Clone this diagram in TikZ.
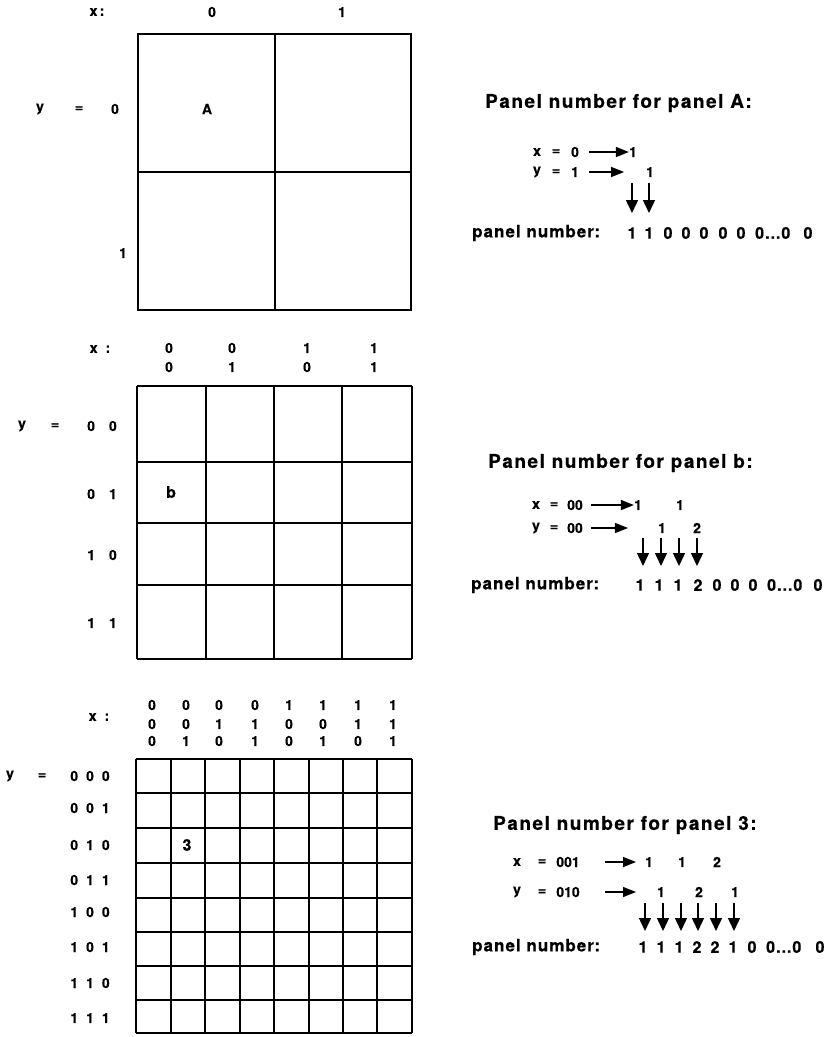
\documentclass[tikz,border=0pt]{standalone}
\usepackage{fontspec}
\setmainfont{TeX Gyre Heros}
\newfontfamily\hb[FakeBold=0.5]{texgyreheros-bold.otf}
\newfontfamily\ttlfont[LetterSpace=8,FakeBold=0.5]{texgyreheros-bold.otf}
\newfontfamily\pnfont[LetterSpace=6,FakeBold=0.5]{texgyreheros-bold.otf}
\usetikzlibrary{arrows.meta}
\tikzset{
  lab/.style={font=\hb\fontsize{14}{14}\selectfont, inner sep=0pt},
  big/.style={font=\hb\fontsize{16}{16}\selectfont, inner sep=0pt},
  ttl/.style={font=\ttlfont\fontsize{19}{19}\selectfont, inner sep=0pt, anchor=west},
  pn/.style={font=\pnfont\fontsize{17}{17}\selectfont, inner sep=0pt, anchor=west},
  dig/.style={font=\hb\fontsize{16}{16}\selectfont, inner sep=0pt},
  gridl/.style={line width=1.6pt},
  harr/.style={line width=1.4pt, -{Triangle[length=13pt,width=10pt]}},
  varr/.style={line width=1.4pt, -{Triangle[length=13pt,width=12pt]}}
}
\newcommand\gpA{\hspace{8pt}}
\newcommand\gpB{\hspace{14pt}}
\newcommand\dts{0\kern1pt.\kern1pt.\kern1pt.\kern1pt0}
\begin{document}
\begin{tikzpicture}[x=1pt,y=-1pt]
\useasboundingbox (0,0) rectangle (830,1037);
% ---------- grid 1 ----------
\draw[gridl] (138,34) rectangle (411,310);
\draw[gridl] (275,34) -- (275,310);
\draw[gridl] (138,172) -- (411,172);
\node[lab] (g1x) at (97,12) {x\,:};
\node[lab] (g1c0) at (212,12) {0};
\node[lab] (g1c1) at (342,12) {1};
\node[lab] (g1y) at (40,109) {y};
\node[lab] (g1eq) at (79,109) {=};
\node[lab] (g1r0) at (115,109) {0};
\node[lab] (g1r1) at (123,253) {1};
\node[lab] (g1A) at (207,109) {A};
% ---------- grid 2 ----------
\foreach \c in {137,206,274,342,412} \draw[gridl] (\c,386) -- (\c,659);
\foreach \r in {386,462,523,585,659} \draw[gridl] (137,\r) -- (412,\r);
\node[lab] (g2x) at (100,349) {x\hspace{8pt}:};
\foreach \c/\a/\b [count=\i] in {169/0/0,232/0/1,307/1/0,374/1/1}{
  \node[lab] (g2ca\i) at (\c,348) {\a};
  \node[lab] (g2cb\i) at (\c,367) {\b};
}
\node[lab] (g2y) at (22,426) {y};
\node[lab] (g2eq) at (55,426) {=};
\foreach \r/\t [count=\i] in {426/0\gpB0,494/0\gpB1,555/1\gpB0,623/1\gpB1}
  \node[lab] (g2r\i) at (102,\r) {\t};
\node[big] (g2b) at (171,492) {b};
% ---------- grid 3 ----------
\foreach \c in {136,171,205,240,274,309,343,377,412} \draw[gridl] (\c,759) -- (\c,1033);
\foreach \r in {759,793,828,863,898,932,966,1000,1033} \draw[gridl] (136,\r) -- (412,\r);
\node[lab] (g3x) at (99,717) {x\hspace{8pt}:};
\foreach \c/\a/\b/\d [count=\i] in {152/0/0/0,186/0/0/1,219/0/1/0,255/0/1/1,289/1/0/0,323/1/0/1,358/1/1/0,393/1/1/1}{
  \node[lab] (g3ca\i) at (\c,705) {\a};
  \node[lab] (g3cb\i) at (\c,724) {\b};
  \node[lab] (g3cc\i) at (\c,741) {\d};
}
\node[lab] (g3y) at (10,776) {y};
\node[lab] (g3eq) at (42,776) {=};
\foreach \r/\t [count=\i] in {776/0\gpA0\gpA0,808/0\gpA0\gpA1,845/0\gpA1\gpA0,880/0\gpA1\gpA1,912/1\gpA0\gpA0,947/1\gpA0\gpA1,983/1\gpA1\gpA0,1018/1\gpA1\gpA1}
  \node[lab] (g3r\i) at (90,\r) {\t};
\node[big] (g3n) at (187,845) {3};
% ---------- panel A text ----------
\node[ttl] (tA) at (485,103) {Panel number for panel A:};
\node[lab] (axl) at (537,152) {x};
\node[lab] (axe) at (556,152) {=};
\node[lab] (axv) at (575,152) {0};
\node[lab] (ax1) at (633,152) {1};
\node[lab] (ayl) at (537,172) {y};
\node[lab] (aye) at (556,172) {=};
\node[lab] (ayv) at (575,172) {1};
\node[lab] (ay1) at (650,172) {1};
\draw[harr] (axv.east) ++(10,0) coordinate (axs) -- (ax1.west);
\draw[harr] (ayv.east) ++(10,0) coordinate (ays) -- ++(35,0) coordinate (aye2);
\node[pn] (pnA) at (472,233) {panel number:};
\foreach \x/\d [count=\i] in {632/1,649/1,668/0,686/0,704/0,723/0,741/0}
  \node[dig] (dA\i) at (\x,233) {\d};
\node[dig,anchor=west] (dAe) at (755,233) {\dts};
\node[dig] (dAz) at (808,233) {0};
\draw[varr] (632,183) coordinate (av1) -- (632,213) coordinate (av1e);
\draw[varr] (649,183) coordinate (av2) -- (649,213) coordinate (av2e);
% ---------- panel b text ----------
\node[ttl] (tb) at (488,463) {Panel number for panel b:};
\node[lab] (bxl) at (536,505) {x};
\node[lab] (bxe) at (554,505) {=};
\node[lab] (bxv) at (575,505) {00};
\node[lab] (bx1) at (638,505) {1};
\node[lab] (bx2) at (680,505) {1};
\node[lab] (byl) at (536,528) {y};
\node[lab] (bye) at (554,528) {=};
\node[lab] (byv) at (575,528) {00};
\node[lab] (by1) at (662,528) {1};
\node[lab] (by2) at (697,528) {2};
\draw[harr] (bxv.east) ++(8,0) -- (bx1.west);
\draw[harr] (byv.east) ++(8,0) -- ++(37,0);
\node[pn] (pnb) at (471,585) {panel number:};
\foreach \x/\d [count=\i] in {640/1,659/1,678/1,698/2,717/0,735/0,753/0}
  \node[dig] (db\i) at (\x,585) {\d};
\node[dig,anchor=west] (dbe) at (767,585) {\dts};
\node[dig] (dbz) at (818,585) {0};
\foreach \x [count=\i] in {643,661,679,697}
  \draw[varr] (\x,538) coordinate (bv\i) -- (\x,566);
% ---------- panel 3 text ----------
\node[ttl] (t3) at (493,825) {Panel number for panel 3:};
\node[lab] (cxl) at (517,862) {x};
\node[lab] (cxe) at (542,862) {=};
\node[lab] (cxv) at (568,862) {001};
\node[lab] (cx1) at (649,862) {1};
\node[lab] (cx2) at (682,862) {1};
\node[lab] (cx3) at (717,862) {2};
\node[lab] (cyl) at (517,892) {y};
\node[lab] (cye) at (542,892) {=};
\node[lab] (cyv) at (568,892) {010};
\node[lab] (cy1) at (661,892) {1};
\node[lab] (cy2) at (699,892) {2};
\node[lab] (cy3) at (735,892) {1};
\draw[harr] (605,862) coordinate (cxs) -- (636,862);
\draw[harr] (605,892) coordinate (cys) -- (636,892);
\node[pn] (pn3) at (472,947) {panel number:};
\foreach \x/\d [count=\i] in {643/1,661/1,679/1,697/2,715/2,733/1,752/0}
  \node[dig] (d3\i) at (\x,947) {\d};
\node[dig,anchor=west] (d3e) at (766,947) {\dts};
\node[dig] (d3z) at (820,947) {0};
\foreach \x [count=\i] in {645,663,681,698,716,734}
  \draw[varr] (\x,903) coordinate (cv\i) -- (\x,931);
\end{tikzpicture}
\end{document}
